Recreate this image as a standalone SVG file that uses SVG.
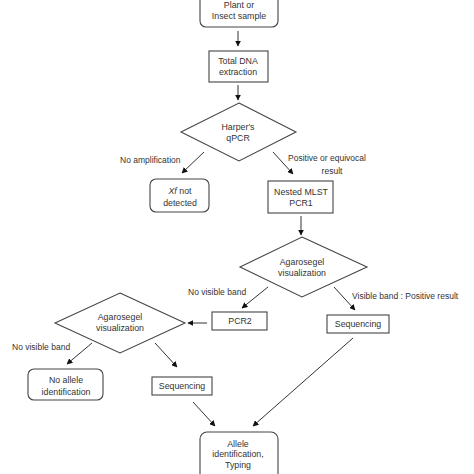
<svg xmlns="http://www.w3.org/2000/svg" width="474" height="474" viewBox="0 0 474 474">
<defs>
<marker id="ah" viewBox="0 0 10 10" refX="9" refY="5" markerWidth="6" markerHeight="6" markerUnits="userSpaceOnUse" orient="auto">
<path d="M0,0 L10,5 L0,10 z" fill="#111"/>
</marker>
<style>
.n{fill:#fff;stroke:#444;stroke-width:1.1}
.t{font-family:"Liberation Sans",Arial,sans-serif;font-size:8.8px;fill:#333;text-anchor:middle}
.l{font-family:"Liberation Sans",Arial,sans-serif;font-size:8.5px;fill:#333}
.c{stroke:#333;stroke-width:1;fill:none;marker-end:url(#ah)}
</style>
</defs>
<rect width="474" height="474" fill="#fff"/>
<g id="connectors">
<line class="c" x1="238" y1="31" x2="238" y2="46"/>
<line class="c" x1="238" y1="85" x2="238" y2="100"/>
<line class="c" x1="204" y1="152" x2="182" y2="173"/>
<line class="c" x1="273" y1="152" x2="293" y2="174"/>
<line class="c" x1="301" y1="216" x2="301" y2="235"/>
<line class="c" x1="268" y1="287" x2="242" y2="308"/>
<line class="c" x1="334" y1="287" x2="355" y2="310"/>
<line class="c" x1="207" y1="323" x2="188" y2="323"/>
<line class="c" x1="92" y1="343" x2="67" y2="364"/>
<line class="c" x1="155" y1="343" x2="177" y2="367"/>
<line class="c" x1="193" y1="402" x2="215" y2="426"/>
<line class="c" x1="353" y1="338" x2="253" y2="426"/>
</g>
<g id="labels">
<text class="l" x="120" y="163">No amplification</text>
<text class="l" x="288" y="161">Positive or equivocal</text>
<text class="l" x="332" y="174" text-anchor="middle">result</text>
<text class="l" x="188" y="295">No visible band</text>
<text class="l" x="352" y="299">Visible band : Positive result</text>
<text class="l" x="12" y="350">No visible band</text>
</g>
<g id="n1"><rect class="n" x="200" y="-6" width="78" height="33" rx="6"/>
<text class="t" x="239" y="8">Plant or</text><text class="t" x="239" y="19">Insect sample</text></g>
<g id="n2"><rect class="n" x="209" y="51" width="59" height="31"/>
<text class="t" x="238" y="64">Total DNA</text><text class="t" x="238" y="75">extraction</text></g>
<g id="n3"><polygon class="n" points="239,103 296,132 239,161 181,132"/>
<text class="t" x="238" y="130">Harper's</text><text class="t" x="238" y="141">qPCR</text></g>
<g id="n4"><rect class="n" x="150" y="179" width="59" height="33" rx="6"/>
<text class="t" x="180" y="194"><tspan font-style="italic">Xf</tspan> not</text><text class="t" x="180" y="206">detected</text></g>
<g id="n5"><rect class="n" x="268" y="181" width="65" height="32"/>
<text class="t" x="301" y="195">Nested MLST</text><text class="t" x="301" y="206">PCR1</text></g>
<g id="n6"><polygon class="n" points="302,237 367,267 302,297 240,267"/>
<text class="t" x="302" y="265">Agarosegel</text><text class="t" x="302" y="276">visualization</text></g>
<g id="n7"><rect class="n" x="212" y="312" width="55" height="18"/>
<text class="t" x="240" y="324">PCR2</text></g>
<g id="n8"><rect class="n" x="327" y="315" width="62" height="18"/>
<text class="t" x="358" y="327">Sequencing</text></g>
<g id="n9"><polygon class="n" points="120,293 185,323 120,353 55,323"/>
<text class="t" x="120" y="320">Agarosegel</text><text class="t" x="120" y="331">visualization</text></g>
<g id="n10"><rect class="n" x="28" y="369" width="75" height="31" rx="6"/>
<text class="t" x="66" y="383">No allele</text><text class="t" x="66" y="395">identification</text></g>
<g id="n11"><rect class="n" x="152" y="377" width="60" height="18"/>
<text class="t" x="182" y="389">Sequencing</text></g>
<g id="n12"><rect class="n" x="200" y="432" width="78" height="50" rx="7"/>
<text class="t" x="238" y="447">Allele</text><text class="t" x="238" y="457">identification,</text><text class="t" x="238" y="468">Typing</text></g>
</svg>
